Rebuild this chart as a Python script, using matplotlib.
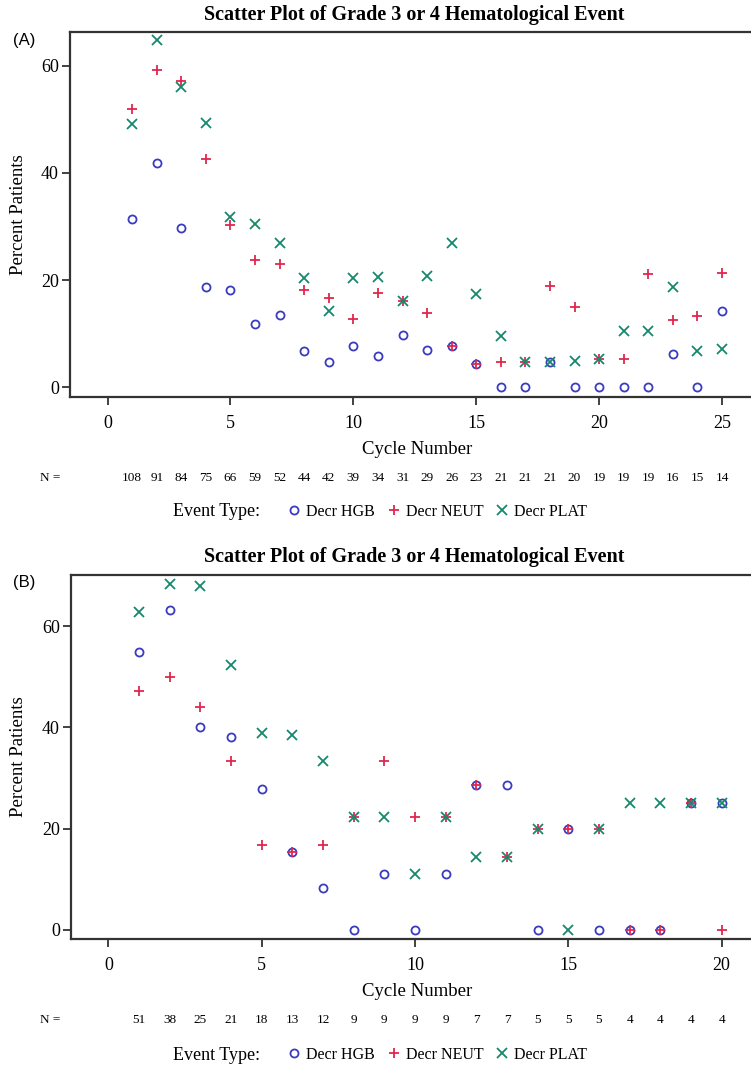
import matplotlib.pyplot as plt
import matplotlib.transforms as mtransforms
from matplotlib.lines import Line2D

# panel A
cycles_a = list(range(1, 26))
hgb_a = [31.5, 41.8, 29.8, 18.7, 18.2, 11.9, 13.5, 6.8, 4.8, 7.7, 5.9, 9.7, 6.9,
         7.7, 4.3, 0, 0, 4.8, 0, 0, 0, 0, 6.3, 0, 14.3]
neut_a = [51.9, 59.3, 57.1, 42.7, 30.3, 23.7, 23.1, 18.2, 16.7, 12.8, 17.6, 16.1, 13.8,
          7.7, 4.3, 4.8, 4.8, 19.0, 15.0, 5.3, 5.3, 21.1, 12.5, 13.3, 21.4]
plat_a = [49.1, 64.8, 56.0, 49.3, 31.8, 30.5, 26.9, 20.5, 14.3, 20.5, 20.6, 16.1, 20.7,
          26.9, 17.4, 9.5, 4.8, 4.8, 5.0, 5.3, 10.5, 10.5, 18.8, 6.7, 7.1]
n_a = [108, 91, 84, 75, 66, 59, 52, 44, 42, 39, 34, 31, 29, 26, 23, 21, 21, 21, 20,
       19, 19, 19, 16, 15, 14]

# panel B
cycles_b = list(range(1, 21))
hgb_b = [54.9, 63.2, 40.0, 38.1, 27.8, 15.4, 8.3, 0, 11.1, 0, 11.1, 28.6, 28.6, 0,
         20.0, 0, 0, 0, 25.0, 25.0]
neut_b = [47.1, 50.0, 44.0, 33.3, 16.7, 15.4, 16.7, 22.2, 33.3, 22.2, 22.2, 28.6, 14.3,
          20.0, 20.0, 20.0, 0, 0, 25.0, 0]
plat_b = [62.7, 68.4, 68.0, 52.4, 38.9, 38.5, 33.3, 22.2, 22.2, 11.1, 22.2, 14.3, 14.3,
          20.0, 0, 20.0, 25.0, 25.0, 25.0, 25.0]
n_b = [51, 38, 25, 21, 18, 13, 12, 9, 9, 9, 9, 7, 7, 5, 5, 5, 4, 4, 4, 4]

title = "Scatter Plot of Grade 3 or 4 Hematological Event"
series_names = ["Decr HGB", "Decr NEUT", "Decr PLAT"]
colors = ["#3b3bbf", "#e0274d", "#16886c"]
markers = ["o", "+", "x"]
msizes = [5.8, 7, 6.5]

serif = "Liberation Serif"
W, H = 751, 1070
fig = plt.figure(figsize=(W / 100, H / 100), dpi=100)


def panel(top, bottom, left, xlim, ylim, xticks, cycles, series, ns, tag, pos):
    # pixel positions -> figure fractions
    ax = fig.add_axes([left / W, 1 - bottom / H, (W - left) / W, (bottom - top) / H])
    for vals, c, m, ms in zip(series, colors, markers, msizes):
        ax.plot(cycles, vals, ls="none", marker=m, ms=ms, mfc="none", mec=c, mew=1.3)
    ax.set_xlim(*xlim)
    ax.set_ylim(*ylim)
    ax.set_xticks(xticks)
    ax.set_yticks([0, 20, 40, 60])
    ax.spines["right"].set_visible(False)
    for s in ["left", "top", "bottom"]:
        ax.spines[s].set_linewidth(1.6)
        ax.spines[s].set_color("#333333")
    ax.tick_params(direction="out", length=6, width=1.3, color="#333333")
    ax.tick_params(axis="x", pad=7)
    ax.tick_params(axis="y", pad=2)
    for lab in ax.get_xticklabels() + ax.get_yticklabels():
        lab.set_fontfamily(serif)
        lab.set_fontsize(13)
    ax.set_ylabel("Percent Patients", family=serif, fontsize=13.5)
    ax.yaxis.label.set_va("center")
    ax.yaxis.set_label_coords(-(left - 19) / (W - left), 0.5)
    ax.set_xlabel("Cycle Number", family=serif, fontsize=13.5)
    ax.xaxis.label.set_va("center")
    ax.xaxis.set_label_coords((417 - left) / (W - left), -(pos["cn"] - bottom) / (bottom - top))

    fig.text(414.5 / W, 1 - pos["title"] / H, title, family=serif, fontweight="bold",
             fontsize=14.5, ha="center", va="center")
    fig.text(13 / W, 1 - pos["tag"] / H, tag, family="Liberation Sans", fontsize=12,
             ha="left", va="center")

    # N row
    tr = mtransforms.blended_transform_factory(ax.transData, fig.transFigure)
    fig.text(40 / W, 1 - pos["n"] / H, "N =", family=serif, fontsize=9.5, ha="left", va="center")
    for x, n in zip(cycles, ns):
        ax.text(x, 1 - pos["n"] / H, str(n), transform=tr, family=serif, fontsize=9.5,
                ha="center", va="center", clip_on=False)

    # legend row
    fig.text(173 / W, 1 - pos["leg"] / H, "Event Type:", family=serif, fontsize=13,
             ha="left", va="center")
    handles = [Line2D([], [], ls="none", marker=m, ms=ms, mfc="none", mec=c, mew=1.3)
               for c, m, ms in zip(colors, markers, msizes)]
    fig.legend(handles, series_names, loc="center left",
               bbox_to_anchor=(289 / W, 1 - pos["leg"] / H), ncol=3, frameon=False,
               prop={"family": serif, "size": 11.5}, handlelength=0.6, handletextpad=0.45,
               columnspacing=0.9, borderpad=0, borderaxespad=0)
    return ax


panel(32, 396.5, 70, (-1.53, 26.18), (-1.7, 66.3), range(0, 26, 5), cycles_a,
      [hgb_a, neut_a, plat_a], n_a, "(A)",
      {"title": 15, "tag": 40, "cn": 450, "n": 478, "leg": 512})
panel(575, 939, 71, (-1.22, 20.96), (-1.8, 70.1), range(0, 21, 5), cycles_b,
      [hgb_b, neut_b, plat_b], n_b, "(B)",
      {"title": 557, "tag": 583, "cn": 992, "n": 1020, "leg": 1055})

fig.savefig("out.png", dpi=100)
